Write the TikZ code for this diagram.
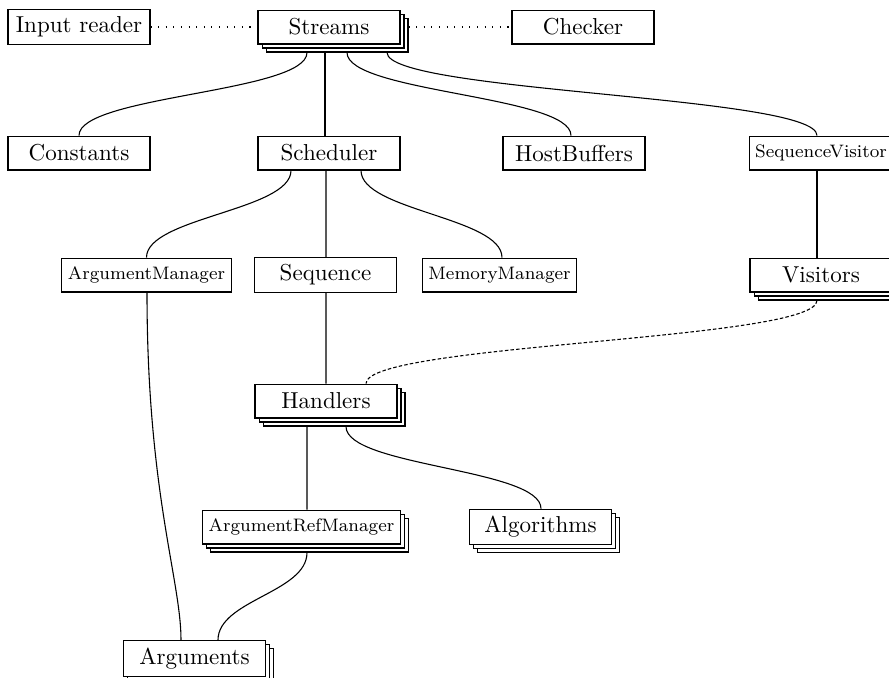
\documentclass[tikz,border=0pt]{standalone}
\usetikzlibrary{shadows,calc}

\tikzset{
  comp/.style={draw, fill=white, line width=0.5pt, minimum width=65.3pt, minimum height=15.6pt,
    inner xsep=2.8pt, font=\fontsize{10.6}{12}\selectfont},
  stack/.style={comp, double copy shadow={shadow xshift=1.85pt, shadow yshift=-1.85pt}},
  small/.style={font=\fontsize{8.3}{10}\selectfont},
  wire/.style={line width=0.5pt, to path={.. controls +(0,-#1) and +(0,#1) .. (\tikztotarget)}},
  wire/.default=40,
}

\begin{document}
\begin{tikzpicture}[x=0.46pt, y=0.46pt]
  \useasboundingbox (0,0) rectangle (889,-678);

  % top row
  \node[comp] (reader) at (79,-27) {Input reader};
  \node[stack] (streams) at (329,-27) {Streams};
  \node[comp] (checker) at (583,-27) {Checker};

  % second row
  \node[comp] (constants) at (79,-153) {Constants};
  \node[comp] (scheduler) at (329,-153) {Scheduler};
  \node[comp] (hostbuf) at (574,-153) {HostBuffers};
  \node[comp, small] (seqvisitor) at (821,-153) {SequenceVisitor};

  % third row
  \node[comp, small] (argmanager) at (146.5,-275) {ArgumentManager};
  \node[comp] (sequence) at (325.5,-275) {Sequence};
  \node[comp, small] (memmanager) at (499.5,-275) {MemoryManager};
  \node[stack] (visitors) at (821,-275) {Visitors};

  % lower part
  \node[stack] (handlers) at (326,-401) {Handlers};
  \node[stack, small] (argrefmanager) at (301.5,-527) {ArgumentRefManager};
  \node[stack] (algorithms) at (540.5,-527) {Algorithms};
  \node[stack] (arguments) at (194.5,-658.5) {Arguments};

  % dotted links of the top row
  \draw[line width=0.5pt, dash pattern=on 0.5pt off 3pt] (reader) -- (streams);
  \draw[line width=0.5pt, dash pattern=on 0.5pt off 3pt] ($(streams.east)+(8,0)$) -- (checker);

  % tree links: source/xshift/yshift/target/xshift
  \foreach \a/\xa/\ya/\b/\xb in {streams/-22/-8/constants/0, streams/-4/-8/scheduler/-4,
      streams/18/-8/hostbuf/-3, streams/58/-8/seqvisitor/-4,
      scheduler/-38/0/argmanager/0, scheduler/-3/0/sequence/0.5, scheduler/32/0/memmanager/2.5,
      seqvisitor/-4/0/visitors/-4, sequence/0.5/0/handlers/0,
      handlers/-19/-8/argrefmanager/5.5,
      handlers/20/-8/algorithms/0.5, argrefmanager/5.5/-8/arguments/23.5}
    \draw[wire] ($(\a.south)+(\xa,\ya)$) to ($(\b.north)+(\xb,0)$);

  % the long one on the left
  \draw[wire] ($(argmanager.south)+(0.5,0)$) .. controls +(0,-200) and +(0,60) .. ($(arguments.north)+(-13.5,0)$);

  \draw[wire, dash pattern=on 1.6pt off 1pt] ($(visitors.south)+(-4,-8)$) to ($(handlers.north)+(40,0)$);
\end{tikzpicture}
\end{document}
